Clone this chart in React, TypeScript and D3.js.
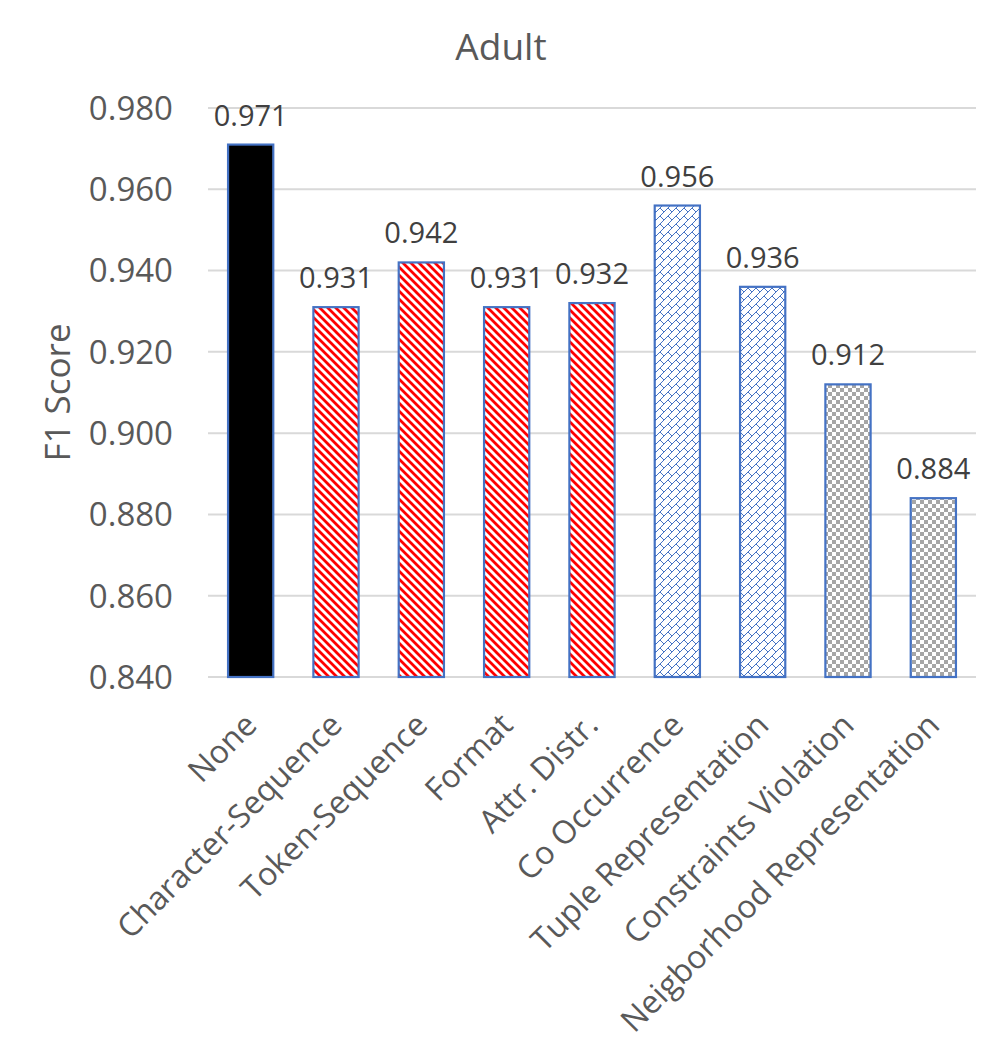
import React, { useEffect, useRef } from "react";
import * as d3 from "d3";

const categories = [
  "None",
  "Character-Sequence",
  "Token-Sequence",
  "Format",
  "Attr. Distr.",
  "Co Occurrence",
  "Tuple Representation",
  "Constraints Violation",
  "Neigborhood Representation",
];
const scores = [0.971, 0.931, 0.942, 0.931, 0.932, 0.956, 0.936, 0.912, 0.884];
// fill style for each bar
const fills = ["solid", "stripe", "stripe", "stripe", "stripe", "brick", "brick", "checker", "checker"];
const yTicks = [0.84, 0.86, 0.88, 0.9, 0.92, 0.94, 0.96, 0.98];

const width = 1003,
  height = 1060;
const margin = { top: 108, right: 27, bottom: 383, left: 208 };
const textColor = "#595959";
const outline = "#4472C4";
const font = "'Open Sans', sans-serif";

export default function App() {
  const ref = useRef<SVGSVGElement>(null);

  useEffect(() => {
    const svg = d3.select(ref.current);
    svg.selectAll("*").remove();

    const innerW = width - margin.left - margin.right;
    const innerH = height - margin.top - margin.bottom;

    // Patterns like Excel's fill patterns
    const defs = svg.append("defs");

    const stripe = defs
      .append("pattern")
      .attr("id", "stripe")
      .attr("patternUnits", "userSpaceOnUse")
      .attr("width", 8)
      .attr("height", 8);
    stripe.append("rect").attr("width", 8).attr("height", 8).attr("fill", "#fff");
    stripe
      .append("path")
      .attr("d", "M-2,-2 L10,10 M-2,6 L2,10 M6,-2 L10,2")
      .attr("stroke", "#FF0000")
      .attr("stroke-width", 2.8);

    const brick = defs
      .append("pattern")
      .attr("id", "brick")
      .attr("patternUnits", "userSpaceOnUse")
      .attr("width", 8)
      .attr("height", 8);
    brick.append("rect").attr("width", 8).attr("height", 8).attr("fill", "#fff");
    brick
      .append("path")
      .attr("d", "M0,8 L8,0 M4,4 L8,8 M-1,1 L0,0")
      .attr("stroke", outline)
      .attr("stroke-width", 1)
      .attr("fill", "none");

    const checker = defs
      .append("pattern")
      .attr("id", "checker")
      .attr("patternUnits", "userSpaceOnUse")
      .attr("width", 8)
      .attr("height", 8);
    checker.append("rect").attr("width", 8).attr("height", 8).attr("fill", "#fff");
    checker.append("rect").attr("width", 4).attr("height", 4).attr("fill", "#A6A6A6");
    checker.append("rect").attr("x", 4).attr("y", 4).attr("width", 4).attr("height", 4).attr("fill", "#A6A6A6");

    const fillFor = (f: string) => (f === "solid" ? "#000" : `url(#${f})`);

    const x = d3.scaleBand().domain(categories).range([0, innerW]).paddingInner(0.47).paddingOuter(0.235);
    const y = d3.scaleLinear().domain([0.84, 0.98]).range([innerH, 0]);

    const g = svg.append("g").attr("transform", `translate(${margin.left},${margin.top})`);

    // Gridlines
    g.selectAll(".grid")
      .data(yTicks)
      .enter()
      .append("line")
      .attr("x1", 0)
      .attr("x2", innerW)
      .attr("y1", (d) => y(d))
      .attr("y2", (d) => y(d))
      .attr("stroke", "#D9D9D9")
      .attr("stroke-width", 2);

    // Y tick labels
    g.selectAll(".ytick")
      .data(yTicks)
      .enter()
      .append("text")
      .attr("x", -35)
      .attr("y", (d) => y(d))
      .attr("dy", "0.36em")
      .attr("text-anchor", "end")
      .attr("font-family", font)
      .attr("font-size", 33)
      .attr("fill", textColor)
      .text((d) => d3.format(".3f")(d));

    // Bars
    g.selectAll(".bar")
      .data(scores)
      .enter()
      .append("rect")
      .attr("x", (d, i) => x(categories[i])!)
      .attr("y", (d) => y(d))
      .attr("width", x.bandwidth())
      .attr("height", (d) => innerH - y(d))
      .attr("fill", (d, i) => fillFor(fills[i]))
      .attr("stroke", outline)
      .attr("stroke-width", 2.2);

    // Value labels
    g.selectAll(".val")
      .data(scores)
      .enter()
      .append("text")
      .attr("x", (d, i) => x(categories[i])! + x.bandwidth() / 2)
      .attr("y", (d) => y(d) - 19)
      .attr("text-anchor", "middle")
      .attr("font-family", font)
      .attr("font-size", 29)
      .attr("fill", "#404040")
      .text((d) => d3.format(".3f")(d));

    // X category labels, rotated
    g.selectAll(".xlab")
      .data(categories)
      .enter()
      .append("text")
      .attr("transform", (d) => `translate(${x(d)! + x.bandwidth() / 2 + 8},${innerH + 50}) rotate(-45)`)
      .attr("text-anchor", "end")
      .attr("font-family", font)
      .attr("font-size", 32)
      .attr("fill", textColor)
      .text((d) => d);

    // Title
    svg
      .append("text")
      .attr("x", 501)
      .attr("y", 60)
      .attr("text-anchor", "middle")
      .attr("font-family", font)
      .attr("font-size", 37)
      .attr("fill", textColor)
      .text("Adult");

    // Y axis title
    svg
      .append("text")
      .attr("transform", `translate(70,${margin.top + innerH / 2}) rotate(-90)`)
      .attr("text-anchor", "middle")
      .attr("font-family", font)
      .attr("font-size", 35)
      .attr("fill", textColor)
      .text("F1 Score");
  }, []);

  return (
    <svg
      ref={ref}
      width={width}
      height={height}
      style={{ position: "absolute", left: 0, top: 0, background: "#fff" }}
    ></svg>
  );
}
